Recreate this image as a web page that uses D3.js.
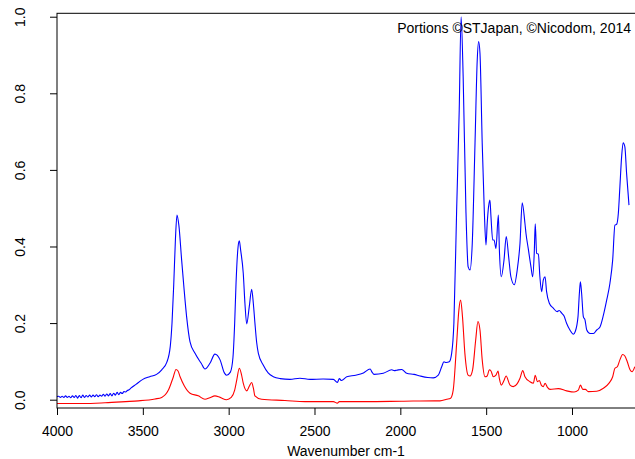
<!DOCTYPE html>
<html>
<head>
<meta charset="utf-8">
<script src="https://cdn.jsdelivr.net/npm/d3@7"></script>
<style>
  body { margin: 0; background: #fff; }
  text { font-family: "Liberation Sans", Arial, sans-serif; fill: #000; }
</style>
</head>
<body>
<div id="chart"></div>
<script>
// IR spectra, wavenumber (cm-1) vs absorbance

var xTicks = [4000, 3500, 3000, 2500, 2000, 1500, 1000];
var yTicks = [0, 0.2, 0.4, 0.6, 0.8, 1.0];

// blue spectrum
var blueWave = [4000, 3990, 3980, 3970, 3960, 3950, 3940, 3930, 3920, 3910, 3900, 3890, 3880, 3870, 3860, 3850, 3840, 3830,
  3820, 3810, 3800, 3790, 3780, 3770, 3760, 3750, 3740, 3730, 3720, 3710, 3700, 3690, 3680, 3670, 3660, 3650, 3640, 3630,
  3620, 3610, 3600, 3590, 3580,
  3570, 3540, 3500, 3460, 3420, 3390, 3360, 3340, 3330, 3320, 3310, 3301, 3290, 3274, 3260, 3245, 3225, 3196, 3160, 3138,
  3109, 3080, 3050, 3025, 3012, 2990, 2975, 2965, 2957, 2945, 2938, 2930, 2915, 2905, 2895, 2880, 2866, 2856, 2847, 2837,
  2827, 2798, 2770, 2740, 2700, 2643, 2585, 2526, 2450, 2390, 2367, 2355, 2343, 2312, 2260, 2215, 2176, 2165, 2153, 2099,
  2050, 2035, 2021, 1992, 1963, 1920, 1885, 1840, 1808, 1779, 1759, 1746, 1733, 1715, 1701, 1688, 1672, 1657, 1646, 1634,
  1618, 1605, 1594, 1581, 1565, 1552, 1544, 1536, 1523, 1511, 1501, 1494, 1486, 1478, 1472, 1462, 1454, 1443, 1429, 1423,
  1412, 1396, 1383, 1369, 1356, 1336, 1319, 1303, 1290, 1274, 1268, 1255, 1239, 1229, 1220, 1214, 1206, 1196, 1187, 1177,
  1167, 1157, 1148, 1132, 1109, 1086, 1075, 1060, 1047, 1031, 1012, 992, 981, 965, 957, 951, 944, 934, 924, 914, 895, 875,
  856, 837, 817, 798, 779, 763, 750, 740, 730, 721, 711, 702, 692, 682, 668];
var blueAbs = [0.008, 0.009, 0.006, 0.009, 0.006, 0.010, 0.006, 0.009, 0.005, 0.010, 0.006, 0.011, 0.004, 0.011, 0.005, 0.012, 0.006, 0.011,
  0.007, 0.012, 0.007, 0.012, 0.008, 0.013, 0.008, 0.012, 0.009, 0.014, 0.009, 0.015, 0.010, 0.016, 0.010, 0.017, 0.012, 0.019, 0.013, 0.019,
  0.016, 0.021, 0.020, 0.024, 0.026,
  0.030, 0.040, 0.053, 0.060, 0.066, 0.078, 0.098, 0.140, 0.200, 0.300, 0.420, 0.482, 0.455, 0.365, 0.290, 0.217, 0.151, 0.121, 0.095, 0.080,
  0.095, 0.119, 0.104, 0.070, 0.064, 0.072, 0.110, 0.200, 0.305, 0.400, 0.415, 0.390, 0.330, 0.250, 0.198, 0.243, 0.288, 0.250, 0.200, 0.150,
  0.121, 0.090, 0.070, 0.060, 0.055, 0.053, 0.056, 0.053, 0.054, 0.053, 0.045, 0.055, 0.050, 0.060, 0.064, 0.070, 0.080, 0.072, 0.066, 0.069,
  0.078, 0.076, 0.077, 0.079, 0.069, 0.066, 0.062, 0.058, 0.057, 0.064, 0.086, 0.099, 0.097, 0.099, 0.121, 0.200, 0.495, 0.756, 1.000, 0.843,
  0.495, 0.347, 0.339, 0.408, 0.669, 0.887, 0.935, 0.904, 0.669, 0.495, 0.404, 0.460, 0.504, 0.521, 0.478, 0.417, 0.417, 0.395, 0.482, 0.391,
  0.321, 0.365, 0.426, 0.373, 0.321, 0.300, 0.339, 0.408, 0.514, 0.460, 0.434, 0.395, 0.347, 0.321, 0.382, 0.459, 0.382, 0.380, 0.321, 0.282,
  0.313, 0.321, 0.282, 0.252, 0.239, 0.230, 0.233, 0.226, 0.219, 0.199, 0.182, 0.171, 0.178, 0.217, 0.278, 0.308, 0.278, 0.217, 0.208, 0.182, 0.173, 0.173,
  0.182, 0.190, 0.221, 0.260, 0.304, 0.365, 0.456, 0.458, 0.487, 0.556, 0.634, 0.671, 0.660, 0.591, 0.508];

// red spectrum
var redWave = [4000, 3850, 3720, 3600, 3526, 3429, 3390, 3351, 3322, 3307, 3295, 3283, 3258, 3225, 3177, 3138, 3110, 3080,
  3050, 3012, 2985, 2965, 2953, 2938, 2925, 2915, 2895, 2880, 2866, 2856, 2847, 2808, 2672, 2555, 2390, 2367, 2355, 2200,
  1992, 1800, 1769, 1730, 1707, 1692, 1672, 1659, 1649, 1638, 1624, 1605, 1594, 1579, 1561, 1548, 1536, 1523, 1507, 1494,
  1482, 1472, 1458, 1443, 1431, 1423, 1412, 1396, 1384, 1361, 1342, 1319, 1303, 1287, 1274, 1245, 1225, 1214, 1202, 1190,
  1179, 1167, 1157, 1144, 1128, 1080, 1031, 988, 963, 951, 937, 922, 905, 856, 817, 783, 763, 750, 736, 721, 705, 692, 678,
  662, 650, 634];
var redAbs = [-0.010, -0.010, -0.008, -0.005, -0.003, 0.002, 0.006, 0.025, 0.060, 0.079, 0.075, 0.060, 0.036, 0.017, 0.010, 0.001, 0.005, 0.010,
  0.006, 0.000, 0.006, 0.025, 0.051, 0.082, 0.065, 0.043, 0.023, 0.035, 0.045, 0.030, 0.010, 0.001, -0.002, -0.005, -0.005, -0.009, -0.005, -0.005,
  -0.004, -0.003, -0.003, 0.001, 0.004, 0.025, 0.147, 0.234, 0.260, 0.217, 0.121, 0.064, 0.062, 0.078, 0.156, 0.204, 0.182, 0.104, 0.060, 0.062,
  0.078, 0.075, 0.060, 0.064, 0.075, 0.055, 0.038, 0.050, 0.062, 0.038, 0.034, 0.042, 0.056, 0.076, 0.060, 0.047, 0.043, 0.064, 0.047, 0.050,
  0.038, 0.034, 0.043, 0.033, 0.027, 0.029, 0.023, 0.020, 0.025, 0.038, 0.027, 0.027, 0.021, 0.022, 0.030, 0.044, 0.060, 0.082, 0.086, 0.104, 0.118, 0.114, 0.099,
  0.078, 0.073, 0.086];

var svgWidth = 635;
var svgHeight = 459;

var svg = d3.select("#chart")
  .append("svg")
  .attr("width", svgWidth)
  .attr("height", svgHeight);

// plot region
var plotLeft = 57, plotRight = 635, plotTop = 13.3, plotBottom = 408;

var x = d3.scaleLinear()
  .domain([4000, 633])
  .range([plotLeft, plotRight]);

var y = d3.scaleLinear()
  .domain([-0.0217, 1.0089])
  .range([plotBottom, plotTop]);

// spectra
var line = d3.line()
  .x(d => x(d[0]))
  .y(d => y(d[1]))
  .curve(d3.curveMonotoneX);

var blueData = blueWave.map((w, i) => [w, blueAbs[i]]);
var redData = redWave.map((w, i) => [w, redAbs[i]]);

svg.append("path")
  .datum(blueData)
  .attr("d", line)
  .attr("fill", "none")
  .attr("stroke", "#0000ff")
  .attr("stroke-width", 1.1);

svg.append("path")
  .datum(redData)
  .attr("d", line)
  .attr("fill", "none")
  .attr("stroke", "#ff0000")
  .attr("stroke-width", 1.1);

// box (right side falls just outside the window)
svg.append("rect")
  .attr("x", plotLeft)
  .attr("y", plotTop)
  .attr("width", plotRight + 2 - plotLeft)
  .attr("height", plotBottom - plotTop)
  .attr("fill", "none")
  .attr("stroke", "#000")
  .attr("stroke-width", 1);

// axes
var bottomAxis = d3.axisBottom(x)
  .tickValues(xTicks)
  .tickSize(7)
  .tickSizeOuter(0)
  .tickFormat(d3.format("d"));

var gx = svg.append("g")
  .attr("transform", `translate(0, ${plotBottom})`)
  .call(bottomAxis);
gx.select(".domain").remove();
gx.selectAll("line").attr("stroke", "#000");
gx.selectAll("text")
  .attr("font-size", 14)
  .attr("font-family", "Liberation Sans, Arial, sans-serif")
  .attr("fill", "#000")
  .attr("dy", null)
  .attr("y", 28);

var leftAxis = d3.axisLeft(y)
  .tickValues(yTicks)
  .tickSize(7)
  .tickSizeOuter(0)
  .tickFormat(d3.format(".1f"));

var gy = svg.append("g")
  .attr("transform", `translate(${plotLeft}, 0)`)
  .call(leftAxis);
gy.select(".domain").remove();
gy.selectAll("line").attr("stroke", "#000");
gy.selectAll("text")
  .attr("font-size", 14)
  .attr("font-family", "Liberation Sans, Arial, sans-serif")
  .attr("fill", "#000")
  .attr("text-anchor", "middle")
  .attr("dy", null)
  .attr("x", 0)
  .attr("y", 0)
  .attr("transform", "translate(-32, 0) rotate(-90)");

// labels
svg.append("text")
  .attr("x", (plotLeft + plotRight) / 2)
  .attr("y", 456)
  .attr("text-anchor", "middle")
  .attr("font-size", 14)
  .text("Wavenumber cm-1");

svg.append("text")
  .attr("x", 631)
  .attr("y", 33)
  .attr("text-anchor", "end")
  .attr("font-size", 14)
  .text("Portions ©STJapan, ©Nicodom, 2014");
</script>
</body>
</html>
